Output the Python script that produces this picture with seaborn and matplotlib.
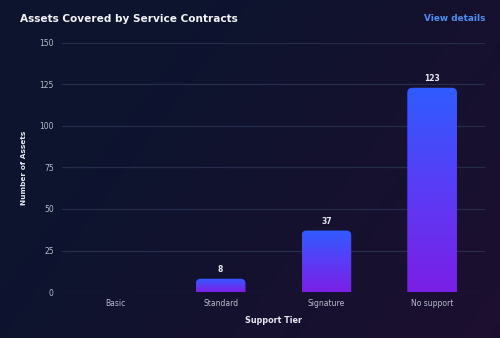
import numpy as np
import pandas as pd
import matplotlib
matplotlib.use("Agg")
import matplotlib.pyplot as plt
import seaborn as sns
from matplotlib.path import Path
from matplotlib.patches import PathPatch
from matplotlib.colors import LinearSegmentedColormap

categories = ["Basic", "Standard", "Signature", "No support"]
assets = [0, 8, 37, 123]
yticks = [0, 25, 50, 75, 100, 125, 150]

df = pd.DataFrame({"tier": categories, "assets": assets})

sns.set_theme(style="dark")
plt.rcParams['font.family'] = ['DejaVu Sans']

fig = plt.figure(figsize=(5, 3.38), dpi=100)

# background gradient
bg = fig.add_axes([0, 0, 1, 1], zorder=-10)
xx, yy = np.meshgrid(np.linspace(0, 1, 200), np.linspace(0, 1, 140))
t = np.clip(0.8 * xx + 0.4 * yy - 0.35, 0, 1)
c0 = np.array([0x0d, 0x14, 0x2e]) / 255
c1 = np.array([0x20, 0x0e, 0x30]) / 255
img = c0[None, None, :] * (1 - t[..., None]) + c1[None, None, :] * t[..., None]
bg.imshow(img, extent=[0, 1, 0, 1], aspect="auto", origin="upper")
bg.set_axis_off()

ax = fig.add_axes([0.124, 0.136, 0.846, 0.737])
ax.set_facecolor("none")
sns.barplot(data=df, x="tier", y="assets", ax=ax, width=0.47, color="#3050ff")

ax.set_ylim(0, 150)
ax.set_yticks(yticks)
ax.set_xlim(-0.5, 3.5)
for s in ax.spines.values():
    s.set_visible(False)
ax.grid(axis="y", color="#272c4c", linewidth=0.9)
ax.grid(axis="x", visible=False)
ax.set_axisbelow(True)
ax.tick_params(axis="both", colors="#b8bccc", labelsize=5.5, length=0, pad=6)
ax.tick_params(axis="x", pad=5)
ax.set_xlabel("Support Tier", color="#e6e8f0", fontsize=5.8, fontweight="bold", labelpad=6)
ax.set_ylabel("Number of Assets", color="#e6e8f0", fontsize=5.3, fontweight="bold", labelpad=9)

cmap = LinearSegmentedColormap.from_list("g", ["#7a1fe6", "#5a3cf5", "#2f5cff"])
grad = np.linspace(0, 1, 256).reshape(-1, 1)
for p, v in zip(list(ax.patches), assets):
    x0, w, h = p.get_x(), p.get_width(), p.get_height()
    p.set_visible(False)
    if h <= 0:
        continue
    px = 5.0
    dx = px / (0.846 * 500) * 4.0
    dy = min(px / (0.737 * 338) * 150, h)
    verts = [(x0, 0), (x0, h - dy), (x0, h), (x0 + dx, h), (x0 + w - dx, h),
             (x0 + w, h), (x0 + w, h - dy), (x0 + w, 0), (x0, 0)]
    codes = [Path.MOVETO, Path.LINETO, Path.CURVE3, Path.CURVE3, Path.LINETO,
             Path.CURVE3, Path.CURVE3, Path.LINETO, Path.CLOSEPOLY]
    pp = PathPatch(Path(verts, codes), facecolor="none", edgecolor="none",
                   transform=ax.transData)
    ax.add_patch(pp)
    im = ax.imshow(grad, cmap=cmap, extent=[x0, x0 + w, 0, h], origin="lower",
                   aspect="auto", zorder=3)
    im.set_clip_path(pp)
    ax.text(x0 + w / 2, h + 3, str(v), ha="center", va="bottom", color="#e6e8f0",
            fontsize=5.5, fontweight="bold", zorder=4)

ax.set_xlim(-0.5, 3.5)
ax.set_ylim(0, 150)

fig.text(0.04, 0.945, "Assets Covered by Service Contracts", color="#f2f3f8",
         fontsize=7.6, fontweight="bold", ha="left", va="center")
fig.text(0.97, 0.945, "View details", color="#4f8ef5", fontsize=6.4,
         fontweight="bold", ha="right", va="center")

fig.savefig("out.png", dpi=100)
